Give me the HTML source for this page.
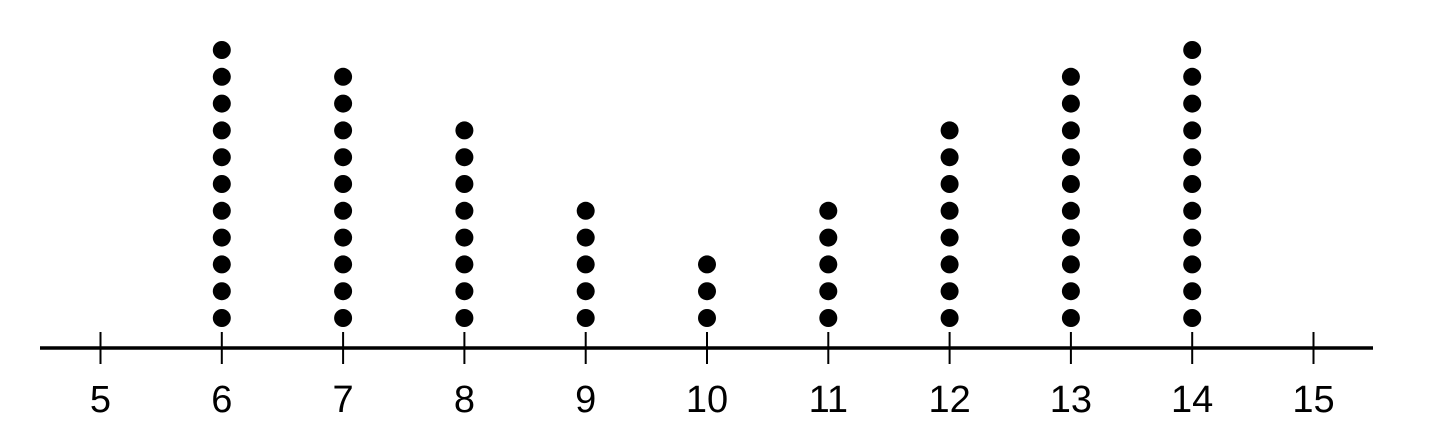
<!DOCTYPE html>
<html><head><meta charset="utf-8"><style>
html,body{margin:0;padding:0;background:#fff;}
svg{display:block;}
text{font-family:"Liberation Sans",sans-serif;font-size:38px;fill:#000;}
</style></head><body>
<svg id="chart" width="1429" height="436" viewBox="0 0 1429 436" xmlns="http://www.w3.org/2000/svg">
<line x1="40" y1="348" x2="1373" y2="348" stroke="#000" stroke-width="3.5"/>
<g id="ticks"></g>
<g id="dots"></g>
</svg>
<script>
const categories = [6, 7, 8, 9, 10, 11, 12, 13, 14];
const counts = [11, 10, 8, 5, 3, 5, 8, 10, 11];
const tickLabels = [5, 6, 7, 8, 9, 10, 11, 12, 13, 14, 15];
const ns = "http://www.w3.org/2000/svg";
function xScale(v){ return 100.5 + (v - 5) * 121.3; }
function yScale(i){ return 318 - i * 26.8; }
const tg = document.getElementById('ticks');
tickLabels.forEach(v => {
  const l = document.createElementNS(ns, 'line');
  
  
  l.setAttribute('x1', xScale(v)); l.setAttribute('x2', xScale(v));
  l.setAttribute('y1', 332); l.setAttribute('y2', 364);
  l.setAttribute('stroke', '#000'); l.setAttribute('stroke-width', '2');
  tg.appendChild(l);
  const t = document.createElementNS(ns, 'text');
  
  
  t.setAttribute('x', xScale(v)); t.setAttribute('y', 412);
  t.setAttribute('text-anchor', 'middle');
  t.textContent = v;
  tg.appendChild(t);
});
const dg = document.getElementById('dots');
categories.forEach((c, k) => {
  for (let i = 0; i < counts[k]; i++) {
    const d = document.createElementNS(ns, 'circle');
    
    
    d.setAttribute('cx', xScale(c)); d.setAttribute('cy', yScale(i));
    d.setAttribute('r', 9); d.setAttribute('fill', '#000');
    dg.appendChild(d);
  }
});
</script>
</body></html>
